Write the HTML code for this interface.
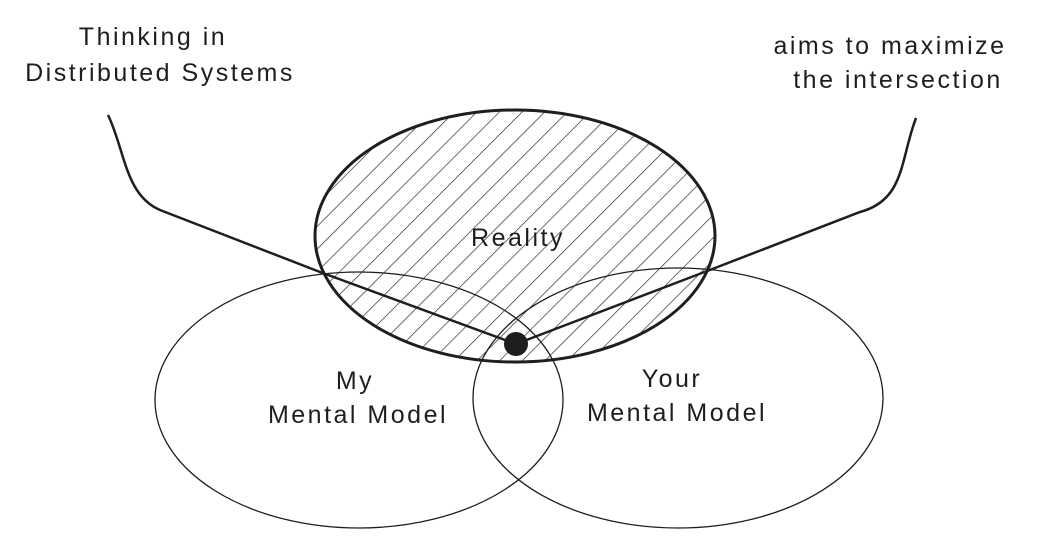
<!DOCTYPE html>
<html><head><meta charset="utf-8"><style>
html,body{margin:0;padding:0;background:#fff;}
svg{display:block}
text{font-family:"Liberation Sans","DejaVu Sans",sans-serif;fill:#1e1e1e;font-size:25px;letter-spacing:2.5px;text-anchor:middle}
</style></head><body>
<svg width="1042" height="544" viewBox="0 0 1042 544" xmlns="http://www.w3.org/2000/svg">
<defs>
<pattern id="h" patternUnits="userSpaceOnUse" width="16" height="16" patternTransform="rotate(45)">
<line x1="0" y1="0" x2="0" y2="16" stroke="#1e1e1e" stroke-width="1.3"/>
</pattern>
</defs>
<rect width="1042" height="544" fill="#fff"/>
<ellipse cx="515" cy="236" rx="200" ry="126" fill="url(#h)" stroke="#1e1e1e" stroke-width="3"/>
<ellipse cx="359" cy="400" rx="204" ry="128" fill="none" stroke="#1e1e1e" stroke-width="1.3"/>
<ellipse cx="678" cy="398" rx="205" ry="130" fill="none" stroke="#1e1e1e" stroke-width="1.3"/>
<path d="M108 115 C125 150 125 195 160 210 L320 272 L516 344" fill="none" stroke="#1e1e1e" stroke-width="2.5"/>
<path d="M916 118 C900 160 905 200 860 212 L715 268 L516 344" fill="none" stroke="#1e1e1e" stroke-width="2.5"/>
<circle cx="516" cy="344" r="12" fill="#1e1e1e"/>
<text x="153" y="45">Thinking in</text>
<text x="160" y="81">Distributed Systems</text>
<text x="890" y="54">aims to maximize</text>
<text x="898" y="88">the intersection</text>
<text x="518" y="246">Reality</text>
<text x="355" y="389">My</text>
<text x="358" y="423">Mental Model</text>
<text x="672" y="387">Your</text>
<text x="677" y="421">Mental Model</text>
</svg>
</body></html>
